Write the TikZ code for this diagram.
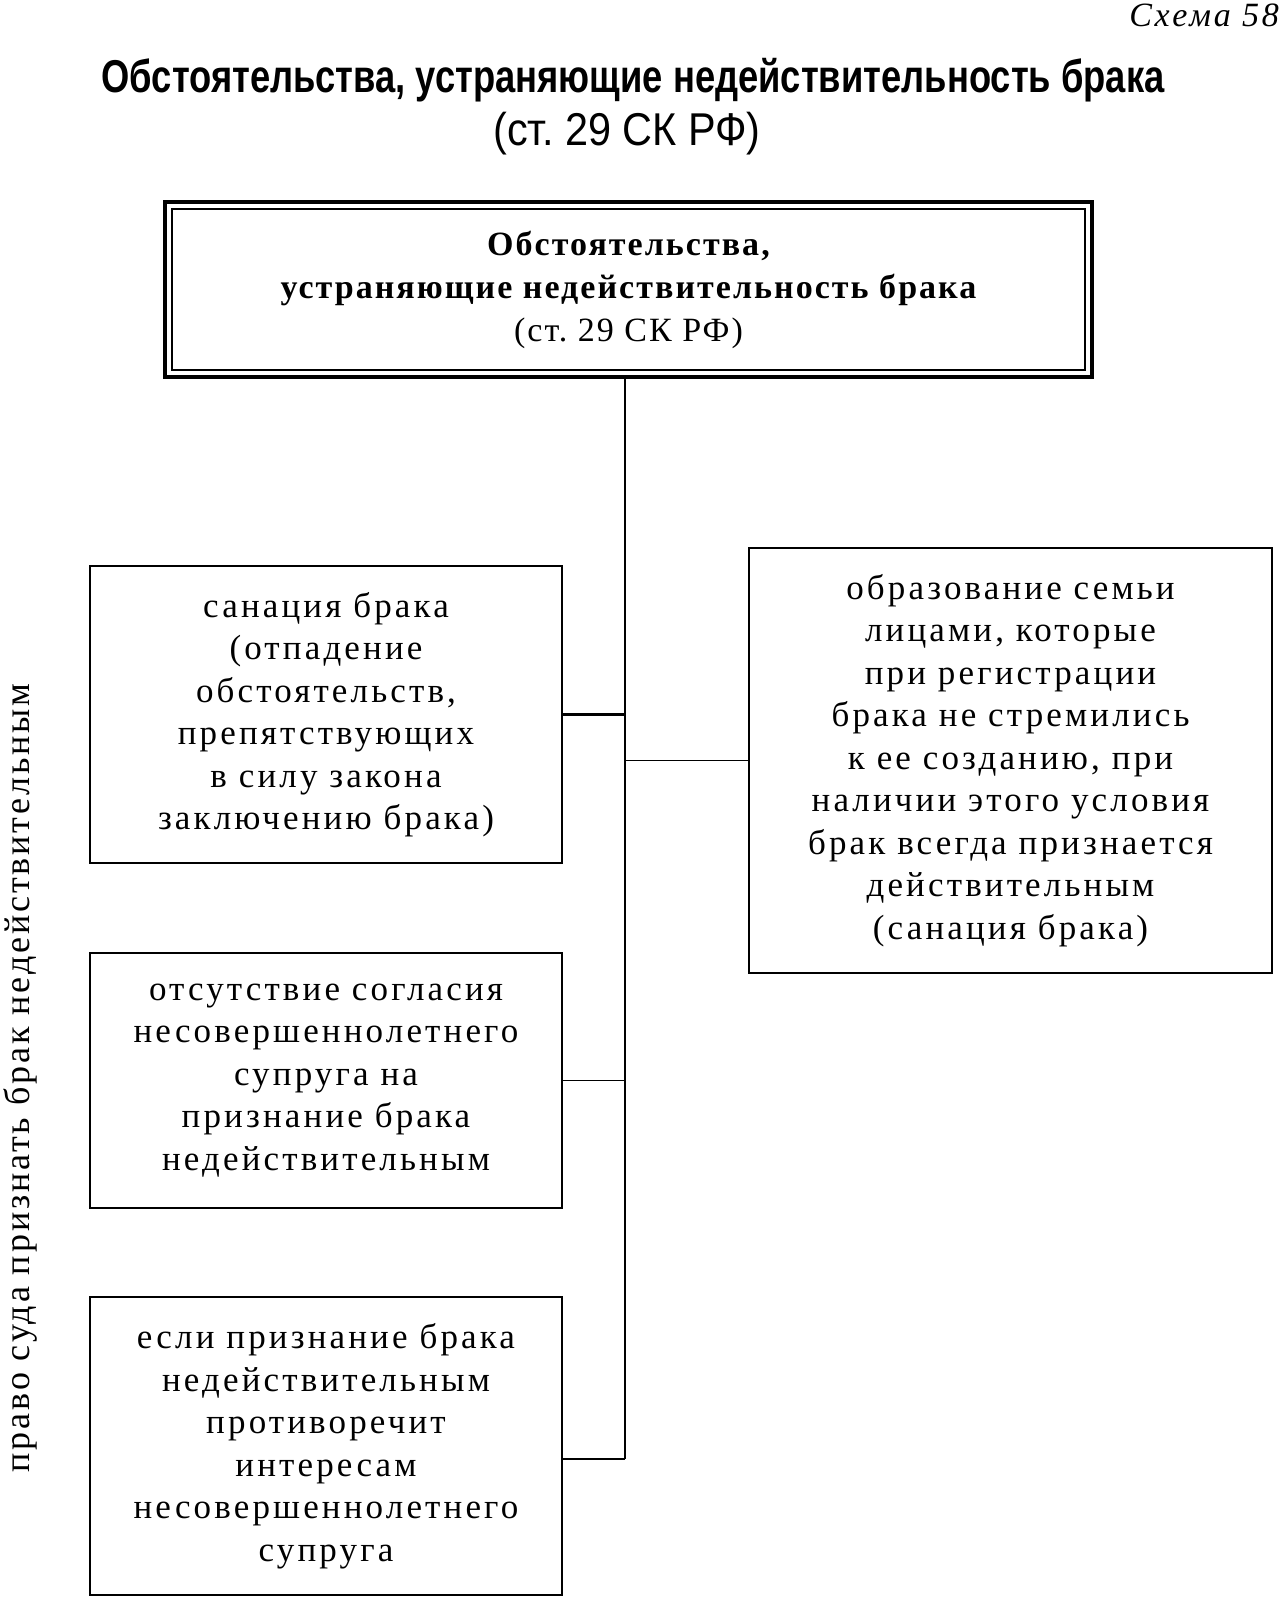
\documentclass[tikz,border=0pt]{standalone}
\usepackage{fontspec}
\setmainfont{Liberation Serif}
\newfontfamily\bodyfont[LetterSpace=9]{Liberation Serif}
\newfontfamily\headfont[LetterSpace=6]{Liberation Serif}
\newfontfamily\titlefont[FakeStretch=0.79]{Liberation Sans}
\newfontfamily\subtitlefont[FakeStretch=0.9]{Liberation Sans}
\newfontfamily\vertfont[LetterSpace=8]{Liberation Serif}
\newfontfamily\schemafont[LetterSpace=8]{Liberation Serif}
\begin{document}
\begin{tikzpicture}[x=1pt,y=-1pt,
  box/.style={draw,line width=2.6pt,rectangle,align=center,inner sep=0pt,
    font=\bodyfont\fontsize{35}{42.5}\selectfont},
  conn/.style={line width=2.6pt},
  thinconn/.style={line width=1.8pt}]
\useasboundingbox (0,0) rectangle (1281,1598);
\node[anchor=north east,inner sep=0pt,font=\schemafont\itshape\fontsize{34}{36}\selectfont] (schema) at (1279,4) {Схема 58};
\node[font=\titlefont\bfseries\fontsize{46}{50}\selectfont] (title) at (633,80) {Обстоятельства, устраняющие недействительность брака};
\node[font=\subtitlefont\fontsize{46}{50}\selectfont] (title2) at (627,134) {(ст.\ 29 СК РФ)};
\node[draw,line width=4pt,minimum width=927pt,minimum height=175pt,inner sep=0pt,align=center,
  font=\headfont\bfseries\fontsize{34}{43}\selectfont] (top) at (628.5,289.5)
  {Обстоятельства,\\устраняющие недействительность брака\\\mdseries(ст.\ 29 СК РФ)};
\draw[line width=2pt] ([shift={(9,9)}]top.north west) rectangle ([shift={(-9,-9)}]top.south east);
\node[box,minimum width=472pt,minimum height=297pt] (b1) at (326,714.5)
  {санация брака\\(отпадение\\обстоятельств,\\препятствующих\\в силу закона\\заключению брака)};
\node[box,minimum width=523pt,minimum height=425pt] (r) at (1010.5,760.5)
  {образование семьи\\лицами, которые\\при регистрации\\брака не стремились\\к ее созданию, при\\наличии этого условия\\брак всегда признается\\действительным\\(санация брака)};
\node[box,minimum width=472pt,minimum height=255pt] (b2) at (326,1080.5)
  {отсутствие согласия\\несовершеннолетнего\\супруга на\\признание брака\\недействительным};
\node[box,minimum width=472pt,minimum height=298pt] (b3) at (326,1446)
  {если признание брака\\недействительным\\противоречит\\интересам\\несовершеннолетнего\\супруга};
\node[rotate=90,font=\vertfont\fontsize{36}{40}\selectfont] (side) at (20,1078) {право суда признать брак недействительным};
\coordinate (tb) at (625,1459);
\draw[conn] (top.south -| tb) -- (tb);
\draw[conn] (b1.east) -- (b1.east -| tb);
\draw[thinconn] (b2.east) -- (b2.east -| tb);
\draw[conn] (tb) -- (tb -| b3.east);
\draw[thinconn] (r.west) -- (r.west -| tb);
\end{tikzpicture}
\end{document}
